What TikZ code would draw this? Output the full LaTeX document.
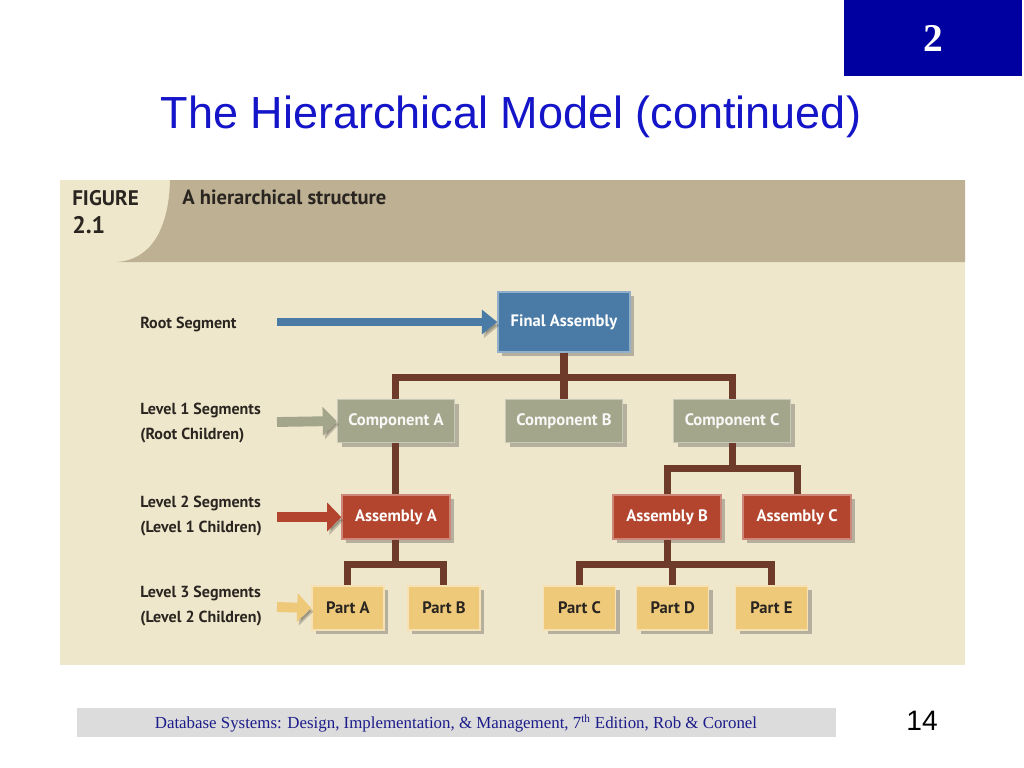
\documentclass[tikz,border=0pt]{standalone}
\usepackage{fontspec}
\setmainfont{Liberation Serif}
\setsansfont{Liberation Sans}
\newfontfamily\figfont{PT Sans}
\usetikzlibrary{arrows.meta,shadows}
\definecolor{slideblue}{HTML}{0000A0}
\definecolor{titleblue}{HTML}{1414C8}
\definecolor{panelbg}{HTML}{EEE7CB}
\definecolor{headtan}{HTML}{BDB093}
\definecolor{labeltext}{HTML}{2A2520}
\definecolor{rootblue}{HTML}{4A7AA6}
\definecolor{compgray}{HTML}{A4A68B}
\definecolor{asmred}{HTML}{B3452F}
\definecolor{partyel}{HTML}{EEC979}
\definecolor{conbrown}{HTML}{6E3A2A}
\definecolor{footgray}{HTML}{DCDCDC}
\definecolor{footblue}{HTML}{1C1C8A}
\tikzset{
  treenode/.style = {rectangle, align=center, inner sep=0pt,
    font=\figfont\bfseries\fontsize{11.8}{13}\selectfont, line width=1pt,
    drop shadow={shadow xshift=3pt, shadow yshift=-3pt, opacity=.35,
      fill=black!70}},
  root/.style = {treenode, fill=rootblue, draw=rootblue!60!white, text=white,
    minimum width=3.3cm, minimum height=1.5cm},% segment racine
  lvl1/.style = {treenode, fill=compgray, draw=compgray!60!white,
    text=white!92!compgray, minimum width=2.925cm, minimum height=1.075cm},
  lvl2/.style = {treenode, fill=asmred, draw=asmred!65!white, text=white,
    minimum width=2.7cm, minimum height=1.1cm},
  lvl3/.style = {treenode, fill=partyel, draw=partyel!55!white,
    text=labeltext, minimum width=1.8cm, minimum height=1.1cm},
  seglabel/.style = {anchor=west, align=left, text=labeltext, inner sep=0pt,
    font=\figfont\bfseries\fontsize{11.4}{17.5}\selectfont},
  segarrow/.style = {line width=7pt, -{Triangle[width=20pt,length=10pt]},
    preaction={draw=black, opacity=.2,
      transform canvas={shift={(1.5pt,-2.5pt)}}}}
}
\begin{document}
\begin{tikzpicture}[x=0.025cm, y=-0.025cm,
  level 1/.style={sibling distance=4.2cm, level distance=2.475cm},
  level 2/.style={sibling distance=3.25cm, level distance=2.4cm},
  level 3/.style={sibling distance=2.4cm, level distance=2.275cm},
  edge from parent/.style={draw=conbrown, line width=5pt},
  edge from parent path={(\tikzparentnode.south) -- ++(0,25)
    -| (\tikzchildnode.north)}]
\useasboundingbox[fill=white] (0,0) rectangle (1024,768);

% slide
\node[fill=slideblue, minimum width=4.425cm, minimum height=1.9cm,
  text=white, font=\bfseries\fontsize{28}{30}\selectfont] (num) at (933,38) {2};
\node[text=titleblue, font=\sffamily\fontsize{32}{38}\selectfont]
  (title) at (511,117) {The Hierarchical Model (continued)};

% figure panel
\fill[panelbg] (60,180) rectangle (965,665);
\fill[headtan] (170,180) -- (965,180) -- (965,262) -- (117,262)
  .. controls (150,260) and (169,230) .. (170,180) -- cycle;
\node[anchor=west, inner sep=0pt, text=labeltext,
  font=\figfont\bfseries\fontsize{15}{17}\selectfont] (fig) at (72,198) {FIGURE};
\node[anchor=west, inner sep=0pt, text=labeltext,
  font=\figfont\bfseries\fontsize{17}{19}\selectfont] (fignum) at (72,225) {2.1};
\node[anchor=west, inner sep=0pt, text=labeltext,
  font=\figfont\bfseries\fontsize{14.6}{16}\selectfont]
  (figtitle) at (182,197) {A hierarchical structure};

\node [root] (fa) at (564,322) {Final Assembly}
    child{ node [lvl1] (ca) {Component A}
            child{ node [lvl2] (aa) {Assembly A}
                    child{ node [lvl3] (pa) {Part A}}
                    child{ node [lvl3] (pb) {Part B}}
            }
    }
    child{ node [lvl1] (cb) {Component B}}
    child{ node [lvl1] (cc) {Component C}
            child{ node [lvl2] (ab) {Assembly B}
                    child{ node [lvl3, xshift=6] (pc) {Part C}}
                    child{ node [lvl3, xshift=4] (pd) {Part D}}
                    child{ node [lvl3, xshift=6] (pe) {Part E}}
            }
            child{ node [lvl2] (ac) {Assembly C}}
    }
;

% segment labels
\node[seglabel] (l0) at (140,324) {Root Segment};
\node[seglabel] (l1) at (140,423) {Level 1 Segments\\(Root Children)};
\node[seglabel] (l2) at (140,516) {Level 2 Segments\\(Level 1 Children)};
\node[seglabel] (l3) at (140,606) {Level 3 Segments\\(Level 2 Children)};
\coordinate (a0) at (277,322);
\coordinate (a1) at (277,422);
\coordinate (a2) at (277,517);
\coordinate (a3) at (277,607);
\draw[segarrow, draw=rootblue, line width=6pt,
  -{Triangle[width=17pt,length=11pt]}] (a0) -- (fa.west);
\draw[segarrow, draw=compgray] (a1) -- (ca.west);
\draw[segarrow, draw=asmred] (a2) -- (aa.west);
\draw[segarrow, draw=partyel] (a3) -- (pa.west);

% footer
\fill[footgray] (77,708) rectangle (836,737);
\node[text=footblue, font=\fontsize{12}{14}\selectfont] (foot) at (456,723)
  {Database Systems: Design, Implementation, \& Management,
   7\textsuperscript{th} Edition, Rob \& Coronel};
\node[font=\sffamily\fontsize{20}{22}\selectfont] (page) at (922,721) {14};
\end{tikzpicture}
\end{document}
